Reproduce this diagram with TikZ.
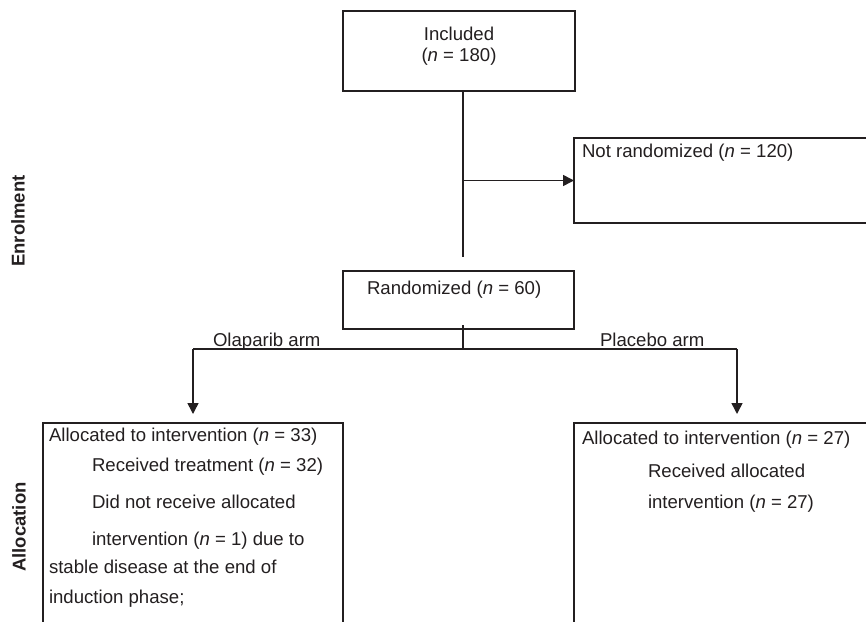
\documentclass[tikz,border=0pt]{standalone}
\usepackage{fontspec}
\setmainfont{Liberation Sans}
\usetikzlibrary{arrows.meta,calc}
\definecolor{ink}{HTML}{231F20}
\begin{document}
\begin{tikzpicture}[x=1pt,y=-1pt,
  box/.style={draw=ink,line width=1.4pt,inner sep=0pt,outer sep=0pt,anchor=north west},
  txt/.style={inner sep=0pt,outer sep=0pt,anchor=base west,font=\fontsize{18.6}{22}\selectfont,text=ink},
  ctxt/.style={txt,anchor=base},
  side/.style={inner sep=0pt,outer sep=0pt,rotate=90,font=\fontsize{18.5}{22}\selectfont\bfseries,text=ink},
  trunk/.style={draw=ink,line width=2.5pt},
  link/.style={draw=ink,line width=1.5pt},
  arr/.style={link,-{Triangle[length=11pt,width=11pt]}}
]
\useasboundingbox (0,0) rectangle (866,621);
\clip (0,0) rectangle (866,621);

% boxes
\node[box,minimum width=232pt,minimum height=80pt] (incl) at (343,11) {};
\node[box,minimum width=320pt,minimum height=85pt] (notr) at (574,138) {};
\node[box,minimum width=231pt,minimum height=58pt] (rand) at (343,271) {};
\node[box,minimum width=300pt,minimum height=230pt] (lbox) at (43,423) {};
\node[box,minimum width=320pt,minimum height=230pt] (rbox) at (574,423) {};

% texts
\node[ctxt] (inclA) at (459,40) {Included};
\node[ctxt] (inclB) at (459,61) {(\textit{n} = 180)};
\node[txt] (notrT) at (582,157) {Not randomized (\textit{n} = 120)};
\node[txt] (randT) at (367,294) {Randomized (\textit{n} = 60)};
\node[txt] (olapT) at (213,346) {Olaparib arm};
\node[txt] (placT) at (600,346) {Placebo arm};

\node[txt] (l1) at (49,441) {Allocated to intervention (\textit{n} = 33)};
\node[txt] (l2) at (92,471) {Received treatment (\textit{n} = 32)};
\node[txt] (l3) at (92,508) {Did not receive allocated};
\node[txt] (l4) at (92,545) {intervention (\textit{n} = 1) due to};
\node[txt] (l5) at (49,573) {stable disease at the end of};
\node[txt] (l6) at (49,603) {induction phase;};

\node[txt] (r1) at (582,444) {Allocated to intervention (\textit{n} = 27)};
\node[txt] (r2) at (648,477) {Received allocated};
\node[txt] (r3) at (648,508) {intervention (\textit{n} = 27)};

\node[side] (enrol) at (18,221) {Enrolment};
\node[side] (alloc) at (19,527) {Allocation};

% connectors
\coordinate (trunkend) at (463,257);
\coordinate (branch) at (463,180.5);
\coordinate (split) at (463,349);
\coordinate (olap) at (193,349);
\coordinate (plac) at (737,349);

\draw[trunk] (incl.south -| trunkend) -- (trunkend);
\draw[arr] (branch) -- (notr.west);
\draw[link] ([yshift=4pt]rand.south -| split) -- (split);
\draw[link] (olap) -- (plac);
\draw[arr,shorten >=9pt] (olap) -- (lbox.north);
\draw[arr,shorten >=9pt] (plac) -- (plac |- rbox.north);
\end{tikzpicture}
\end{document}
